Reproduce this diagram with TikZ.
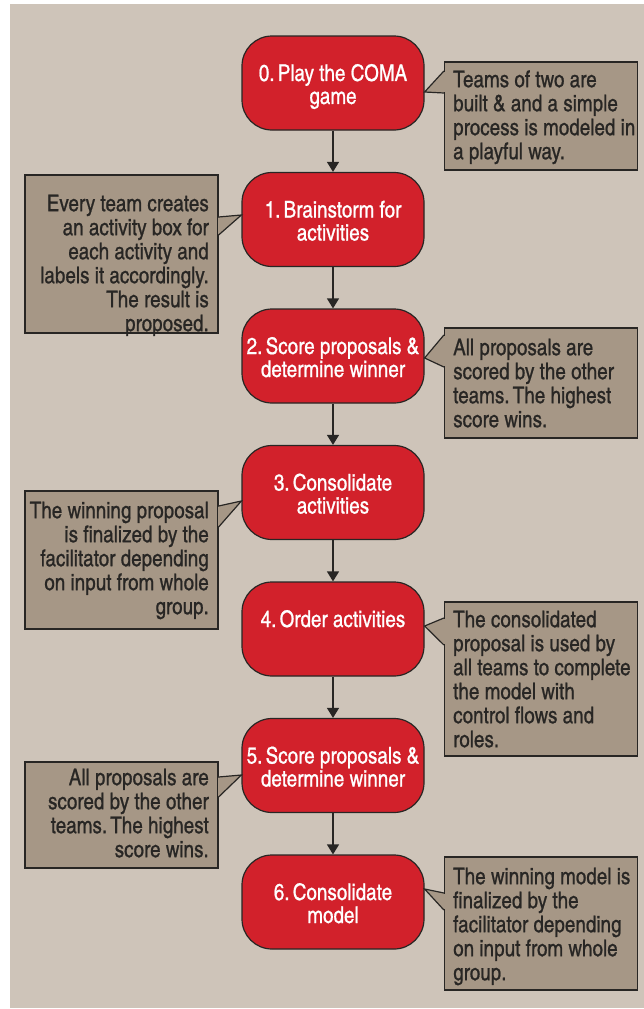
\documentclass[tikz,border=0pt]{standalone}
\usepackage{fontspec}
\setmainfont{texgyreheroscn-regular.otf}[FakeBold=0.8]
\usetikzlibrary{arrows.meta}
\definecolor{paper}{RGB}{206,196,185}
\definecolor{notefill}{RGB}{166,151,134}
\definecolor{stepred}{RGB}{210,33,43}
\definecolor{ink}{RGB}{40,38,36}
% struts that fix the vertical placement of the text lines
\newcommand\upstrut{\rule{0pt}{24pt}}
\newcommand\lowstrut{\rule[-5pt]{0pt}{5pt}}
\newcommand\notestrut{\rule{0pt}{18pt}}
\newcommand\gap{\hspace{0.14em}}
% speech-bubble pointer: edge point, tip, edge point
\newcommand\pointer[3]{%
  \fill[notefill] #1 -- #2 -- #3 -- cycle;
  \draw[notefill, line width=1.6pt, shorten <=1pt, shorten >=1pt] #1 -- #3;
  \draw[tail] #1 -- #2 -- #3;}
\frenchspacing
\begin{document}
\begin{tikzpicture}[x=1pt,y=-1pt,
  stepbox/.style={draw=ink, line width=1.2pt, fill=stepred, rounded corners=30pt,
    minimum width=182pt, minimum height=94pt, inner sep=0pt, align=center,
    text=white, font=\fontsize{23}{23}\selectfont},
  notebox/.style={draw=ink, line width=1.2pt, fill=notefill, inner sep=0pt, minimum width=193pt},
  notetext/.style={inner sep=0pt, text=ink, font=\fontsize{23}{24}\selectfont},
  ltext/.style={notetext, align=left, anchor=north west},
  rtext/.style={notetext, align=right, anchor=north east},
  flow/.style={draw=ink, line width=1.2pt, -{Triangle[width=12pt,length=10pt]}},
  tail/.style={draw=ink, line width=1.2pt, line join=miter}
]
\useasboundingbox (0,0) rectangle (644,1009);
\fill[white] (0,0) rectangle (644,1009);
\fill[paper] (10,4) rectangle (644,1008);

% process steps
\node[stepbox] (s0) at (333,83)    {\upstrut 0.\gap Play the COMA\\ game\lowstrut};
\node[stepbox] (s1) at (333,219.5) {\upstrut 1.\gap Brainstorm for\\ activities\lowstrut};
\node[stepbox] (s2) at (333,356)   {\upstrut 2.\gap Score proposals \&\\ determine winner\lowstrut};
\node[stepbox] (s3) at (333,492.5) {\upstrut 3.\gap Consolidate\\ activities\lowstrut};
\node[stepbox] (s4) at (333,629)   {\upstrut 4.\gap Order activities\\ \lowstrut};
\node[stepbox] (s5) at (333,765.5) {\upstrut 5.\gap Score proposals \&\\ determine winner\lowstrut};
\node[stepbox] (s6) at (333,902)   {\upstrut 6.\gap Consolidate\\ model\lowstrut};

\foreach \a/\b in {s0/s1, s1/s2, s2/s3, s3/s4, s4/s5, s5/s6}
  \draw[flow] (\a) -- (\b);

% note boxes
\node[notebox, minimum height=108pt] (b0) at (541,116)   {};
\node[notebox, minimum height=158pt] (b1) at (121.5,254) {};
\node[notebox, minimum height=110pt] (b2) at (541,383)   {};
\node[notebox, minimum height=138pt] (b3) at (121.5,560) {};
\node[notebox, minimum height=154pt] (b4) at (541,679)   {};
\node[notebox, minimum height=106pt] (b5) at (121.5,815) {};
\node[notebox, minimum height=133pt] (b6) at (541,923.5) {};

% pointers from the notes to their steps
\coordinate (p0a) at (b0.west |- 0,71);  \coordinate (p0t) at (s0.east |- 0,92);  \coordinate (p0b) at (b0.west |- 0,93);
\coordinate (p1a) at (b1.east |- 0,217); \coordinate (p1t) at (s1.west |- 0,215); \coordinate (p1b) at (b1.east |- 0,235);
\coordinate (p2a) at (b2.west |- 0,335); \coordinate (p2t) at (s2.east |- 0,358); \coordinate (p2b) at (b2.west |- 0,367);
\coordinate (p3a) at (b3.east |- 0,506); \coordinate (p3t) at (s3.west |- 0,501); \coordinate (p3b) at (b3.east |- 0,527);
\coordinate (p4a) at (b4.west |- 0,618); \coordinate (p4t) at (s4.east |- 0,626); \coordinate (p4b) at (b4.west |- 0,645);
\coordinate (p5a) at (b5.east |- 0,777); \coordinate (p5t) at (s5.west |- 0,775); \coordinate (p5b) at (b5.east |- 0,797);
\coordinate (p6a) at (b6.west |- 0,893); \coordinate (p6t) at (s6.east |- 0,889); \coordinate (p6b) at (b6.west |- 0,910);
\pointer{(p0a)}{(p0t)}{(p0b)}
\pointer{(p1a)}{(p1t)}{(p1b)}
\pointer{(p2a)}{(p2t)}{(p2b)}
\pointer{(p3a)}{(p3t)}{(p3b)}
\pointer{(p4a)}{(p4t)}{(p4b)}
\pointer{(p5a)}{(p5t)}{(p5b)}
\pointer{(p6a)}{(p6t)}{(p6b)}

% note texts
\node[ltext] (t0) at (453,69)  {\notestrut Teams of two are\\ built \& and a simple\\ process is modeled in\\ a playful way.};
\node[rtext] (t1) at (209,193) {\notestrut Every team creates\\ an activity box for\\ each activity and\\ labels it accordingly.\\ The result is\\ proposed.};
\node[ltext] (t2) at (453,337) {\notestrut All proposals are\\ scored by the other\\ teams.\gap The highest\\ score wins.};
\node[rtext] (t3) at (209,500) {\notestrut The winning proposal\\ is finalized by the\\ facilitator depending\\ on input from whole\\ group.};
\node[ltext] (t4) at (453,609) {\notestrut The consolidated\\ proposal is used by\\ all teams to complete\\ the model with\\ control flows and\\ roles.};
\node[rtext] (t5) at (209,767) {\notestrut All proposals are\\ scored by the other\\ teams.\gap The highest\\ score wins.};
\node[ltext] (t6) at (453,866) {\notestrut The winning model is\\ finalized by the\\ facilitator depending\\ on input from whole\\ group.};
\end{tikzpicture}
\end{document}
